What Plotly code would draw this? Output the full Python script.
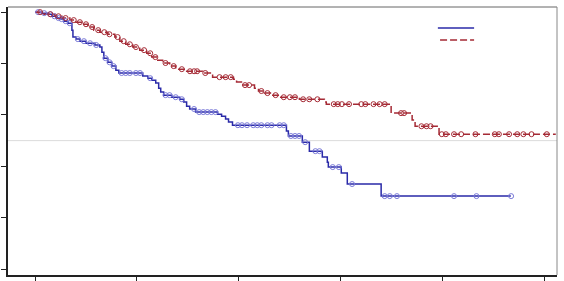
import numpy as np
import plotly.graph_objects as go

# Kaplan-Meier step data (time, survival after step)
blue_t = [0.0, 0.068, 0.127, 0.166, 0.205, 0.245, 0.284, 0.323, 0.362, 0.372, 0.401, 0.440, 0.499,
          0.587, 0.636, 0.656, 0.675, 0.714, 0.753, 0.793, 0.822, 1.057, 1.106, 1.145, 1.184, 1.213,
          1.233, 1.262, 1.341, 1.419, 1.458, 1.487, 1.517, 1.575, 1.791, 1.830, 1.869, 1.898, 1.937,
          2.466, 2.485, 2.622, 2.691, 2.818, 2.867, 2.877, 3.004, 3.063, 3.395]
blue_s = [1.0, 0.996, 0.992, 0.984, 0.977, 0.973, 0.965, 0.957, 0.930, 0.903, 0.895, 0.887, 0.879,
          0.872, 0.864, 0.844, 0.821, 0.805, 0.790, 0.774, 0.763, 0.751, 0.743, 0.735, 0.724, 0.704,
          0.689, 0.677, 0.669, 0.661, 0.650, 0.634, 0.623, 0.611, 0.603, 0.595, 0.584, 0.572, 0.560,
          0.537, 0.518, 0.494, 0.459, 0.436, 0.416, 0.397, 0.374, 0.331, 0.284]
blue_end = 4.667
blue_cens = [0.03, 0.09, 0.15, 0.19, 0.23, 0.26, 0.30, 0.34, 0.42, 0.48, 0.54, 0.60, 0.69, 0.73, 0.77,
             0.85, 0.89, 0.93, 0.99, 1.03, 1.13, 1.28, 1.32, 1.38, 1.44, 1.56, 1.61, 1.65, 1.69, 1.73,
             1.77, 1.99, 2.03, 2.08, 2.14, 2.18, 2.22, 2.28, 2.32, 2.40, 2.44, 2.51, 2.55, 2.59, 2.65,
             2.75, 2.79, 2.92, 2.98, 3.11, 3.43, 3.48, 3.55, 4.11, 4.33, 4.67]

red_t = [0.0, 0.088, 0.196, 0.264, 0.342, 0.401, 0.460, 0.519, 0.577, 0.636, 0.714, 0.783, 0.832,
         0.890, 0.959, 1.027, 1.096, 1.145, 1.204, 1.252, 1.321, 1.380, 1.477, 1.644, 1.742, 1.947,
         1.977, 2.025, 2.153, 2.192, 2.250, 2.309, 2.397, 2.593, 2.838, 2.857, 3.493, 3.699, 3.728,
         3.963]
red_s = [1.0, 0.992, 0.984, 0.977, 0.969, 0.961, 0.953, 0.942, 0.930, 0.922, 0.914, 0.903, 0.887,
         0.875, 0.864, 0.852, 0.840, 0.825, 0.813, 0.802, 0.790, 0.778, 0.770, 0.763, 0.747, 0.739,
         0.728, 0.716, 0.704, 0.693, 0.685, 0.677, 0.669, 0.661, 0.650, 0.642, 0.607, 0.580, 0.556,
         0.525]
red_end = 5.108
red_cens = [0.05, 0.15, 0.23, 0.30, 0.38, 0.44, 0.50, 0.56, 0.62, 0.68, 0.73, 0.81, 0.87, 0.93, 0.99,
            1.07, 1.13, 1.18, 1.28, 1.36, 1.44, 1.52, 1.56, 1.59, 1.67, 1.81, 1.87, 1.92, 2.06, 2.10,
            2.22, 2.28, 2.36, 2.44, 2.50, 2.55, 2.63, 2.69, 2.77, 2.93, 2.97, 3.01, 3.08, 3.20, 3.24,
            3.32, 3.38, 3.43, 3.59, 3.62, 3.79, 3.84, 3.88, 3.99, 4.03, 4.11, 4.18, 4.32, 4.51, 4.55,
            4.65, 4.73, 4.79, 4.87, 5.02]

x_ticks = [0, 1, 2, 3, 4, 5]
y_ticks = [0.0, 0.2, 0.4, 0.6, 0.8, 1.0]


def surv_at(ts, ss, q):
    idx = np.searchsorted(np.array(ts), np.array(q), side="right") - 1
    return [ss[i] for i in idx]


BLUE = "#2a2aa8"
BLUE_M = "#7a7ad8"
RED = "#a52a35"
DASH = "7px,3px"

fig = go.Figure()
fig.add_trace(go.Scatter(x=blue_t + [blue_end], y=blue_s + [blue_s[-1]], mode="lines",
                         line=dict(color=BLUE, width=1.5, shape="hv"), showlegend=False))
fig.add_trace(go.Scatter(x=red_t + [red_end], y=red_s + [red_s[-1]], mode="lines",
                         line=dict(color=RED, width=1.5, shape="hv", dash=DASH), showlegend=False))
fig.add_trace(go.Scatter(x=blue_cens, y=surv_at(blue_t, blue_s, blue_cens), mode="markers",
                         marker=dict(symbol="circle-open", size=5, color=BLUE_M, line=dict(width=1)),
                         showlegend=False))
fig.add_trace(go.Scatter(x=red_cens, y=surv_at(red_t, red_s, red_cens), mode="markers",
                         marker=dict(symbol="circle-open", size=5, color=RED, line=dict(width=1)),
                         showlegend=False))

fig.add_hline(y=0.5, line=dict(color="#dcdcdc", width=1), layer="below")

fig.update_layout(
    width=564, height=281,
    margin=dict(l=8, r=7, t=7, b=6, autoexpand=False),
    paper_bgcolor="white", plot_bgcolor="white",
    showlegend=False,
)
fig.update_xaxes(range=[-0.265, 5.12], tickvals=x_ticks, showticklabels=False, ticks="outside",
                 ticklen=4, tickcolor="#222", showgrid=False, zeroline=False, automargin=False,
                 showline=True, linecolor="#222", linewidth=1.5, mirror=False)
fig.update_yaxes(range=[-0.023, 1.02], tickvals=y_ticks, showticklabels=False, ticks="outside",
                 ticklen=5, tickcolor="#222", showgrid=False, zeroline=False, automargin=False,
                 showline=True, linecolor="#222", linewidth=1.5, mirror=False)
# frame on top and right
fig.add_shape(type="line", xref="paper", yref="paper", x0=0, x1=1, y0=1, y1=1,
              line=dict(color="#666", width=1))
fig.add_shape(type="line", xref="paper", yref="paper", x0=1, x1=1, y0=0, y1=1,
              line=dict(color="#888", width=1))
# legend keys (labels are blank in the reference)
fig.add_shape(type="line", xref="paper", yref="paper", x0=0.783, x1=0.849, y0=0.922, y1=0.922,
              line=dict(color=BLUE, width=1.5))
fig.add_shape(type="line", xref="paper", yref="paper", x0=0.787, x1=0.849, y0=0.877, y1=0.877,
              line=dict(color=RED, width=1.5, dash=DASH))

fig.write_html("out.html")
